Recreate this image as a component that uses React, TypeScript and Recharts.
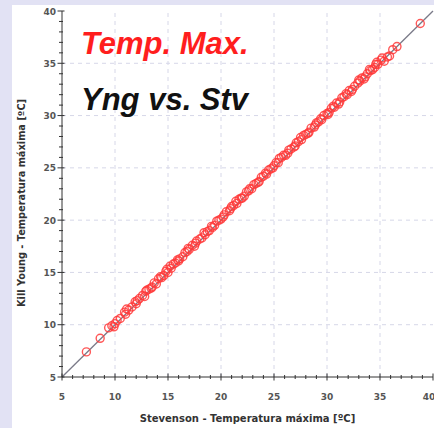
import React from 'react'
import { ScatterChart, Scatter, XAxis, YAxis, ReferenceLine, Label } from 'recharts'

// Stevenson screen vs Kill Young screen, daily maximum temperature (ºC)
const stevensonMax = [
  7.3, 8.6, 9.4, 9.7, 9.9, 10.2, 10.5, 10.9, 11.1, 11.3, 11.6, 11.9, 12.1, 12.3, 12.6, 12.8,
  13.0, 13.2, 13.5, 13.7, 13.9, 14.1, 14.3, 14.6, 14.8, 15.0, 15.2, 15.5, 15.7, 15.9, 16.1, 16.4,
  16.6, 16.8, 17.0, 17.3, 17.5, 17.7, 18.0, 18.2, 18.4, 18.7, 18.9, 19.1, 19.4, 19.6, 19.8, 20.0,
  20.3, 20.5, 20.8, 21.0, 21.2, 21.5, 21.7, 21.9, 22.2, 22.4, 22.6, 22.9, 23.1, 23.3, 23.6, 23.8,
  24.0, 24.3, 24.5, 24.7, 25.0, 25.2, 25.4, 25.7, 25.9, 26.1, 26.4, 26.6, 26.9, 27.1, 27.3, 27.6,
  27.8, 28.0, 28.3, 28.5, 28.8, 29.0, 29.2, 29.5, 29.7, 30.0, 30.2, 30.4, 30.7, 30.9, 31.2, 31.4,
  31.6, 31.9, 32.1, 32.4, 32.6, 32.9, 33.1, 33.3, 33.6, 33.8, 34.1, 34.3, 34.6, 34.8, 35.1, 35.4,
  35.7, 36.2, 38.8,
  10.0, 11.0, 12.0, 12.9, 13.4, 14.4, 14.9, 15.3, 16.0, 16.9, 17.6, 18.5, 19.2, 20.2, 20.9, 21.4,
  22.0, 22.7, 23.5, 24.2, 24.9, 25.5, 26.3, 27.0, 27.5, 28.2, 28.9, 29.4, 30.1, 30.6, 31.1, 31.8,
  32.3, 33.0, 33.5, 34.0, 34.5, 34.7, 35.2, 35.9, 36.6,
]

const youngMax = [
  7.4, 8.7, 9.7, 9.9, 9.8, 10.4, 10.6, 11.2, 11.5, 11.4, 11.7, 12.2, 12.3, 12.5, 12.8, 12.7,
  13.3, 13.4, 13.6, 14.0, 13.9, 14.4, 14.6, 14.7, 15.1, 15.0, 15.6, 15.8, 15.9, 16.2, 16.3, 16.5,
  16.9, 17.0, 17.2, 17.6, 17.5, 18.0, 18.2, 18.3, 18.8, 18.9, 19.0, 19.4, 19.5, 19.9, 20.0, 20.1,
  20.5, 20.8, 20.9, 21.3, 21.4, 21.6, 22.0, 22.1, 22.3, 22.7, 22.8, 23.0, 23.4, 23.5, 23.7, 24.1,
  24.2, 24.4, 24.8, 24.9, 25.2, 25.5, 25.5, 26.0, 26.2, 26.2, 26.7, 26.8, 27.0, 27.4, 27.5, 27.7,
  28.1, 28.2, 28.4, 28.8, 28.9, 29.3, 29.4, 29.6, 30.0, 30.2, 30.3, 30.7, 30.8, 31.2, 31.3, 31.7,
  31.8, 32.0, 32.4, 32.5, 32.8, 33.1, 33.3, 33.6, 33.7, 34.0, 34.3, 34.4, 34.9, 34.9, 35.3, 35.2,
  35.6, 36.3, 38.8,
  10.1, 11.0, 12.0, 13.2, 13.5, 14.5, 15.3, 15.4, 16.1, 17.3, 17.8, 18.6, 19.3, 20.3, 21.1, 21.8,
  22.1, 23.0, 23.6, 24.5, 25.0, 25.9, 26.4, 27.1, 27.9, 28.3, 29.1, 29.7, 30.1, 30.9, 31.1, 32.1,
  32.3, 33.4, 33.5, 34.4, 34.6, 35.1, 35.5, 35.7, 36.6,
]

const axisTicks = [
  5, 6, 7, 8, 9, 10, 11, 12, 13, 14, 15, 16, 17, 18, 19, 20, 21, 22, 23, 24, 25, 26, 27, 28, 29, 30,
  31, 32, 33, 34, 35, 36, 37, 38, 39, 40,
]
const gridValues = [10, 15, 20, 25, 30, 35]

const points = stevensonMax.map((s, i) => ({ s, y: youngMax[i] }))

const FONT = '"DejaVu Sans", Arial, sans-serif'
const AXIS_COLOR = '#333'

// tick with minor marks every 1 ºC, labels on the multiples of 5
const makeTick = (side: 'bottom' | 'left' | 'top' | 'right') => (props: any) => {
  const { x, y, payload } = props
  const major = payload.value % 5 === 0
  const a = major ? 3.5 : 2
  if (side === 'bottom' || side === 'top') {
    return (
      <g>
        <line x1={x} x2={x} y1={y - a} y2={y + a} stroke={AXIS_COLOR} strokeWidth={1} />
        {side === 'bottom' && major && (
          <text
            x={payload.value === 40 ? x - 4 : x}
            y={y + 23}
            textAnchor="middle"
            fontSize={9}
            fontWeight="bold"
            fontFamily={FONT}
            fill="#555"
          >
            {payload.value}
          </text>
        )}
      </g>
    )
  }
  return (
    <g>
      <line x1={x - a - 1} x2={x + a - 1} y1={y} y2={y} stroke={AXIS_COLOR} strokeWidth={1} />
      {side === 'left' && major && (
        <text
          x={x - 6}
          y={y + 3.5}
          textAnchor="end"
          fontSize={9}
          fontWeight="bold"
          fontFamily={FONT}
          fill="#555"
        >
          {payload.value}
        </text>
      )}
    </g>
  )
}

const YLabel = ({ viewBox }: any) => {
  const cx = viewBox.x + 9
  const cy = viewBox.y + viewBox.height / 2 + 9
  return (
    <text
      x={cx}
      y={cy}
      transform={`rotate(-90, ${cx}, ${cy})`}
      textAnchor="middle"
      dominantBaseline="central"
      fontSize={9.8}
      fontWeight="bold"
      fontFamily={FONT}
      fill="#333"
    >
      Kill Young - Temperatura máxima [ºC]
    </text>
  )
}

const OpenCircle = (props: any) => {
  const { cx, cy } = props
  return <circle cx={cx} cy={cy} r={4} fill="none" stroke="#ff3a3a" strokeWidth={1.4} strokeOpacity={0.85} />
}

export default function App() {
  return (
    <div style={{ position: 'absolute', left: 0, top: 0, width: 434, height: 428, background: '#e2e2f4' }}>
      <div style={{ position: 'absolute', left: 12, top: 5, width: 422, height: 423, background: '#fff' }} />
      <div style={{ position: 'absolute', left: 0, top: 0 }}>
        <ScatterChart width={434} height={428} margin={{ top: 11, right: 1, bottom: 0, left: 12 }}>
          <XAxis
            type="number"
            dataKey="s"
            domain={[5, 40]}
            ticks={axisTicks}
            interval={0}
            height={51}
            tickSize={0}
            tickMargin={0}
            tickLine={false}
            tick={makeTick('bottom')}
            axisLine={{ stroke: AXIS_COLOR }}
            allowDataOverflow
          >
            <Label
              value="Stevenson - Temperatura máxima [ºC]"
              position="insideBottom"
              offset={6}
              fontSize={10}
              fontWeight="bold"
              fontFamily={FONT}
              fill="#333"
            />
          </XAxis>
          <XAxis
            xAxisId="top"
            orientation="top"
            type="number"
            dataKey="s"
            domain={[5, 40]}
            ticks={axisTicks}
            interval={0}
            height={0}
            tickSize={0}
            tickMargin={0}
            tickLine={false}
            tick={makeTick('top')}
            axisLine={{ stroke: AXIS_COLOR }}
            allowDataOverflow
          />
          <YAxis
            type="number"
            dataKey="y"
            domain={[5, 40]}
            ticks={axisTicks}
            interval={0}
            width={50}
            tickSize={0}
            tickMargin={0}
            tickLine={false}
            tick={makeTick('left')}
            axisLine={{ stroke: AXIS_COLOR }}
            allowDataOverflow
          >
            <Label content={<YLabel />} />
          </YAxis>
          <YAxis
            yAxisId="right"
            orientation="right"
            type="number"
            dataKey="y"
            domain={[5, 40]}
            ticks={axisTicks}
            interval={0}
            width={0}
            tickSize={0}
            tickMargin={0}
            tickLine={false}
            tick={makeTick('right')}
            axisLine={{ stroke: AXIS_COLOR }}
            allowDataOverflow
          />
          {gridValues.map((v) => (
            <ReferenceLine key={`gx${v}`} x={v} stroke="#d6d7e8" strokeDasharray="4 4" />
          ))}
          {gridValues.map((v) => (
            <ReferenceLine key={`gy${v}`} y={v} stroke="#d6d7e8" strokeDasharray="4 4" />
          ))}
          <ReferenceLine
            segment={[{ x: 5, y: 5 }, { x: 40, y: 40 }]}
            stroke="#7a7a88"
            strokeWidth={1.3}
          />
          <Scatter data={points} shape={<OpenCircle />} isAnimationActive={false} />
        </ScatterChart>
      </div>
      <svg width={434} height={428} style={{ position: 'absolute', left: 0, top: 0, pointerEvents: 'none' }}>
        <text
          x={81}
          y={54}
          fontSize={31}
          fontStyle="italic"
          fontWeight="bold"
          fontFamily='"Liberation Sans", Arial, sans-serif'
          fill="#ff1e1e"
        >
          Temp. Max.
        </text>
        <text
          x={81}
          y={110}
          fontSize={31}
          fontStyle="italic"
          fontWeight="bold"
          fontFamily='"Liberation Sans", Arial, sans-serif'
          fill="#111"
        >
          Yng vs. Stv
        </text>
      </svg>
    </div>
  )
}
